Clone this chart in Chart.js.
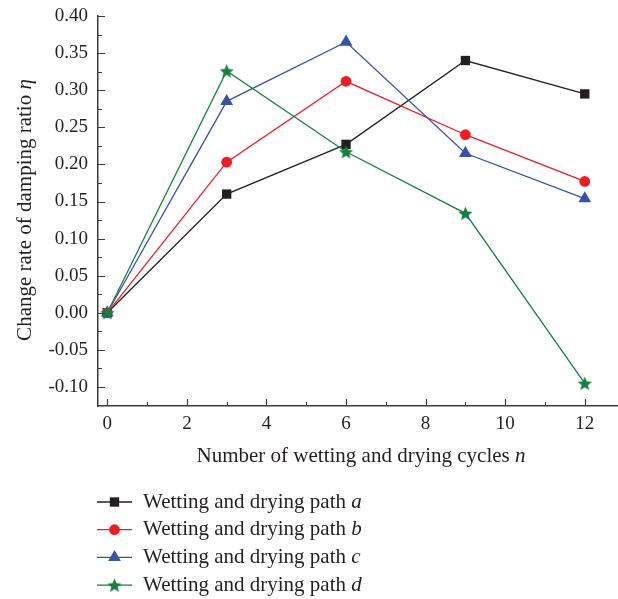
<!DOCTYPE html>
<html>
<head>
<meta charset="utf-8">
<script src="https://cdn.jsdelivr.net/npm/chart.js@4/dist/chart.umd.min.js"></script>
<style>
  html, body { margin: 0; padding: 0; background: #fff; }
  #wrap { width: 618px; height: 599px; }
</style>
</head>
<body>
<div id="wrap"><canvas id="myChart" width="618" height="599"></canvas></div>
<script>
// data
const cycles = [0, 3, 6, 9, 12]
const pathA = [0, 0.160, 0.227, 0.340, 0.295]
const pathB = [0, 0.203, 0.312, 0.240, 0.177]
const pathC = [0, 0.285, 0.365, 0.215, 0.154]
const pathD = [0, 0.326, 0.217, 0.134, -0.095]
const pathLetters = ['a', 'b', 'c', 'd']
const xTickValues = [0, 2, 4, 6, 8, 10, 12]
const yTickValues = [-0.10, -0.05, 0.00, 0.05, 0.10, 0.15, 0.20, 0.25, 0.30, 0.35, 0.40]

const FONT = "'Liberation Serif', 'DejaVu Serif', serif"
const AXIS = '#3c3c3c'
const colors = ['#231f20', '#ee1d23', '#3953a4', '#15803f']

// filled five point star, used as pointStyle for path d
function makeStar(size, color) {
    let c = document.createElement('canvas')
    c.width = size
    c.height = size
    let g = c.getContext('2d')
    let cx = size / 2, cy = size / 2 + 0.7
    let outer = size / 2, inner = outer * 0.45
    g.beginPath()
    for (let i = 0; i < 10; i++) {
        let r = i % 2 === 0 ? outer : inner
        let a = -Math.PI / 2 + i * Math.PI / 5
        g.lineTo(cx + r * Math.cos(a), cy + r * Math.sin(a))
    }
    g.closePath()
    g.fillStyle = color
    g.fill()
    return c
}

const star = makeStar(15, colors[3])

function toPoints(values) {
    return values.map((v, i) => ({ x: cycles[i], y: v }))
}

const datasets = [
    { label: 'Wetting and drying path a', data: toPoints(pathA), pointStyle: 'rect', pointRadius: 6.6, order: 3 },
    { label: 'Wetting and drying path b', data: toPoints(pathB), pointStyle: 'circle', pointRadius: 5.4, order: 2 },
    { label: 'Wetting and drying path c', data: toPoints(pathC), pointStyle: 'triangle', pointRadius: 7.4, order: 1 },
    { label: 'Wetting and drying path d', data: toPoints(pathD), pointStyle: star, pointRadius: 7, order: 0 }
]
datasets.forEach((d, i) => {
    d.borderColor = colors[i]
    d.backgroundColor = colors[i]
    d.pointBackgroundColor = colors[i]
    d.pointBorderColor = colors[i]
    d.pointBorderWidth = 0
    d.borderWidth = 1.3
    d.tension = 0
})

// inward major/minor ticks, axis titles and the legend below the plot
const decorations = {
    id: 'decorations',
    afterDraw(chart) {
        let ctx = chart.ctx
        let xs = chart.scales.x
        let ys = chart.scales.y
        let area = chart.chartArea
        ctx.save()
        ctx.strokeStyle = AXIS
        ctx.lineWidth = 1.2
        ctx.beginPath()
        for (let v = 0; v <= 12; v++) {
            let px = Math.round(xs.getPixelForValue(v)) + 0.5
            let len = v % 2 === 0 ? 7 : 4
            ctx.moveTo(px, area.bottom)
            ctx.lineTo(px, area.bottom - len)
        }
        for (let k = -4; k <= 16; k++) {
            let py = Math.round(ys.getPixelForValue(k * 0.025)) + 0.5
            let len = k % 2 === 0 ? 7 : 4
            ctx.moveTo(area.left, py)
            ctx.lineTo(area.left + len, py)
        }
        ctx.stroke()

        ctx.fillStyle = '#231f20'
        ctx.textBaseline = 'middle'
        let normal = '21px ' + FONT
        let italic = 'italic 21px ' + FONT

        // x title
        let xa = 'Number of wetting and drying cycles '
        ctx.font = normal
        let w1 = ctx.measureText(xa).width
        ctx.font = italic
        let w2 = ctx.measureText('n').width
        let startX = 361 - (w1 + w2) / 2
        ctx.font = normal
        ctx.textAlign = 'left'
        ctx.fillText(xa, startX, 456)
        ctx.font = italic
        ctx.fillText('n', startX + w1, 456)

        // y title
        let ya = 'Change rate of damping ratio '
        ctx.font = normal
        let h1 = ctx.measureText(ya).width
        ctx.font = italic
        let h2 = ctx.measureText('\u03b7').width
        ctx.save()
        ctx.translate(25, 210)
        ctx.rotate(-Math.PI / 2)
        let sy = -(h1 + h2) / 2
        ctx.font = normal
        ctx.fillText(ya, sy, 0)
        ctx.font = italic
        ctx.fillText('\u03b7', sy + h1, 0)
        ctx.restore()

        // legend
        chart.data.datasets.forEach((d, i) => {
            let y = 502 + i * 27.7
            ctx.strokeStyle = d.borderColor
            ctx.lineWidth = 1.3
            ctx.beginPath()
            ctx.moveTo(97, y)
            ctx.lineTo(132, y)
            ctx.stroke()
            ctx.fillStyle = d.pointBackgroundColor
            Chart.helpers.drawPoint(ctx, {
                pointStyle: d.pointStyle,
                radius: d.pointRadius,
                rotation: 0,
                borderWidth: 0
            }, 114.5, y)
            ctx.fillStyle = '#231f20'
            let base = 'Wetting and drying path '
            ctx.font = normal
            ctx.fillText(base, 143, y)
            let bw = ctx.measureText(base).width
            ctx.font = italic
            ctx.fillText(pathLetters[i], 143 + bw, y)
        })
        ctx.restore()
    }
}

const ctx = document.getElementById('myChart').getContext('2d')
const chart = new Chart(ctx, {
    type: 'line',
    data: { datasets: datasets },
    plugins: [decorations],
    options: {
        responsive: false,
        devicePixelRatio: 1,
        animation: false,
        layout: { autoPadding: false, padding: { left: 0, right: 1, top: 16, bottom: 150 } },
        plugins: {
            legend: { display: false },
            tooltip: { enabled: false }
        },
        scales: {
            x: {
                type: 'linear',
                min: -0.234,
                max: 12.81,
                afterBuildTicks: s => { s.ticks = xTickValues.map(v => ({ value: v })) },
                afterFit: s => {
                    s.height = 43
                    s.paddingLeft = 0
                    s.paddingRight = 0
                },
                grid: { display: false, drawTicks: false },
                border: { display: true, color: AXIS, width: 1.5 },
                ticks: {
                    padding: 7,
                    color: '#231f20',
                    font: { family: FONT, size: 19 },
                    maxRotation: 0,
                    callback: v => String(v)
                }
            },
            y: {
                type: 'linear',
                min: -0.1256,
                max: 0.40,
                afterBuildTicks: s => { s.ticks = yTickValues.map(v => ({ value: v })) },
                afterFit: s => {
                    s.width = 98
                    s.paddingTop = 0
                    s.paddingBottom = 0
                },
                grid: { display: false, drawTicks: false },
                border: { display: true, color: AXIS, width: 1.5 },
                ticks: {
                    padding: 10,
                    color: '#231f20',
                    font: { family: FONT, size: 19 },
                    callback: v => v.toFixed(2)
                }
            }
        }
    }
})
</script>
</body>
</html>
